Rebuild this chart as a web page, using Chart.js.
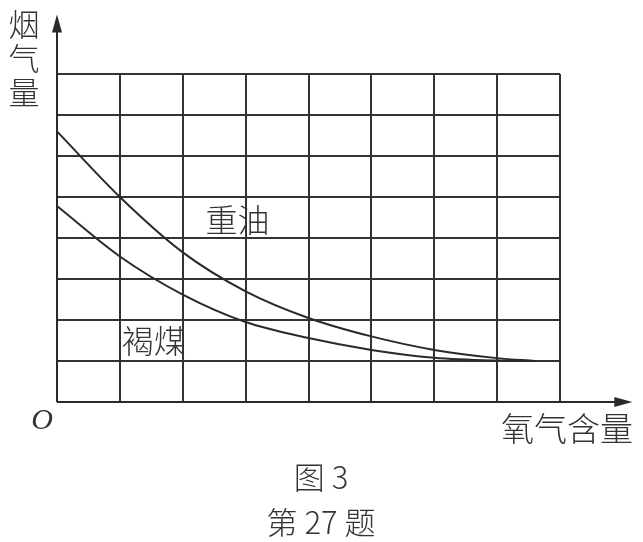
<!DOCTYPE html>
<html>
<head>
<meta charset="utf-8">
<script src="https://cdn.jsdelivr.net/npm/chart.js@4"></script>
<style>
  html, body { margin: 0; padding: 0; background: #fff; }
  #wrap { width: 643px; height: 542px; position: relative; }
</style>
</head>
<body>
<div id="wrap"><canvas id="smokeChart"></canvas></div>
<script>
// oxygen content (grid units)
const oxygen = [0, 1, 2, 3, 4, 5, 6, 7, 7.6];
const heavyOil = [6.6, 5.0, 3.65, 2.7, 2.05, 1.6, 1.27, 1.07, 1.0];
const lignite = [4.78, 3.55, 2.62, 1.95, 1.56, 1.27, 1.08, 1.01, 1.0];
const gridTicks = [0, 1, 2, 3, 4, 5, 6, 7, 8];

const ink = "#2a2a2a";
const cjk = "'Noto Sans CJK SC', 'Noto Sans CJK JP', sans-serif";

function toPoints(ys) {
  return oxygen.map((x, i) => ({ x, y: ys[i] }));
}

const decorPlugin = {
  id: "decor",
  afterDraw(chart) {
    const { ctx } = chart;
    const xs = chart.scales.x;
    const ys = chart.scales.y;
    const x0 = xs.getPixelForValue(0);
    const y0 = ys.getPixelForValue(0);
    const xEnd = xs.getPixelForValue(9.15);
    const yEnd = ys.getPixelForValue(9.45);

    ctx.save();
    ctx.strokeStyle = ink;
    ctx.fillStyle = ink;
    ctx.lineWidth = 2;
    // axes
    ctx.beginPath();
    ctx.moveTo(x0, y0);
    ctx.lineTo(xEnd - 6, y0);
    ctx.moveTo(x0, y0);
    ctx.lineTo(x0, yEnd + 6);
    ctx.stroke();
    // arrow heads
    ctx.beginPath();
    ctx.moveTo(xEnd, y0);
    ctx.lineTo(xEnd - 18, y0 - 5);
    ctx.lineTo(xEnd - 18, y0 + 5);
    ctx.closePath();
    ctx.fill();
    ctx.beginPath();
    ctx.moveTo(x0, yEnd);
    ctx.lineTo(x0 - 5, yEnd + 18);
    ctx.lineTo(x0 + 5, yEnd + 18);
    ctx.closePath();
    ctx.fill();

    ctx.fillStyle = "#333";
    ctx.textAlign = "center";
    ctx.textBaseline = "middle";

    // y axis label, stacked vertically
    ctx.font = "300 31px " + cjk;
    ["烟", "气", "量"].forEach((ch, i) => {
      ctx.fillText(ch, 24, 24 + i * 34);
    });

    // x axis label
    ctx.font = "300 33px " + cjk;
    ctx.textAlign = "right";
    ctx.fillText("氧气含量", 633, 428);

    // origin
    ctx.textAlign = "center";
    ctx.font = "italic 30px 'Liberation Serif', serif";
    ctx.fillText("O", 42, 421);

    // curve labels
    ctx.font = "300 32px " + cjk;
    ctx.fillText("重油", xs.getPixelForValue(2.87), ys.getPixelForValue(4.44));
    ctx.fillText("褐煤", xs.getPixelForValue(1.54), ys.getPixelForValue(1.49));

    // captions
    ctx.font = "300 31px " + cjk;
    ctx.fillText("图 3", 321, 477);
    ctx.fillText("第 27 题", 321, 522);
    ctx.restore();
  }
};

new Chart(document.getElementById("smokeChart"), {
  type: "line",
  data: {
    datasets: [
      {
        label: "重油",
        data: toPoints(heavyOil),
        borderColor: ink,
        borderWidth: 2,
        pointRadius: 0,
        cubicInterpolationMode: "monotone",
        fill: false
      },
      {
        label: "褐煤",
        data: toPoints(lignite),
        borderColor: ink,
        borderWidth: 2,
        pointRadius: 0,
        cubicInterpolationMode: "monotone",
        fill: false
      }
    ]
  },
  options: {
    responsive: true,
    maintainAspectRatio: false,
    animation: false,
    layout: { padding: { left: 57, right: 83, top: 74, bottom: 140 } },
    plugins: {
      legend: { display: false },
      tooltip: { enabled: false }
    },
    scales: {
      x: {
        type: "linear",
        min: 0,
        max: 8,
        afterBuildTicks: (axis) => { axis.ticks = gridTicks.map(v => ({ value: v })); },
        ticks: { display: false },
        border: { display: false },
        grid: { color: "#333", lineWidth: 2, drawTicks: false }
      },
      y: {
        min: 0,
        max: 8,
        afterBuildTicks: (axis) => { axis.ticks = gridTicks.map(v => ({ value: v })); },
        ticks: { display: false },
        border: { display: false },
        grid: { color: "#333", lineWidth: 2, drawTicks: false }
      }
    }
  },
  plugins: [decorPlugin]
});
</script>
</body>
</html>
